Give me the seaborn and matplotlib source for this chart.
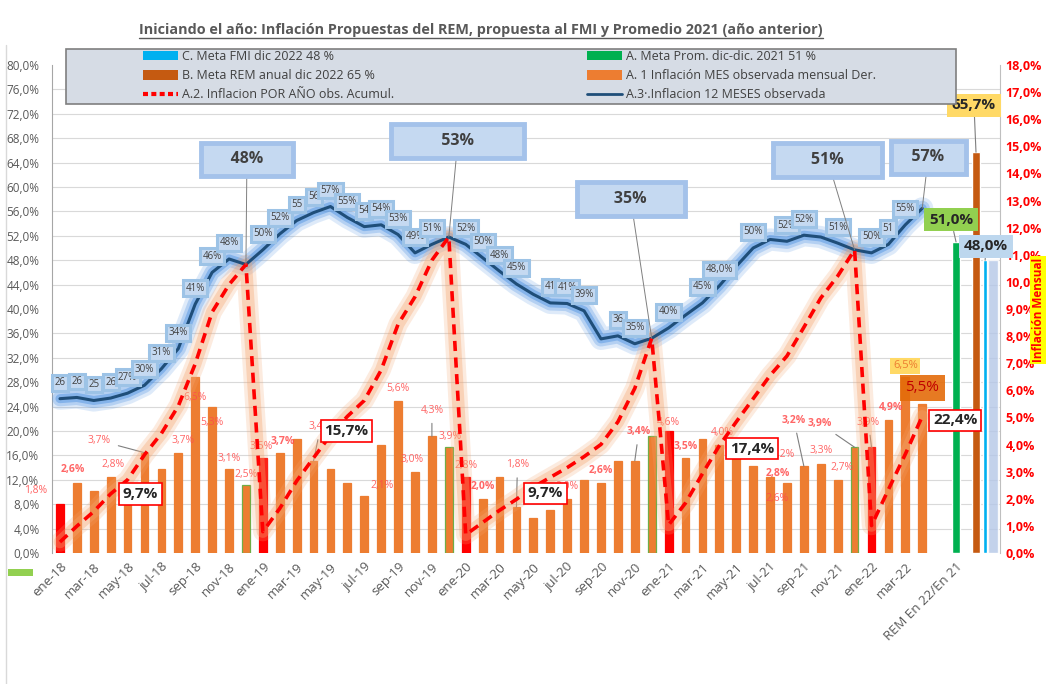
import numpy as np
import pandas as pd
import matplotlib
matplotlib.use("Agg")
import matplotlib.pyplot as plt
import seaborn as sns
from matplotlib.ticker import FuncFormatter, MultipleLocator
from matplotlib.patches import Patch, Rectangle
from matplotlib.lines import Line2D

# ---------------- data ----------------
month_names = ["ene", "feb", "mar", "abr", "may", "jun", "jul", "ago", "sep", "oct", "nov", "dic"]
years = ["18", "19", "20", "21", "22"]
months = [f"{m}-{y}" for y in years for m in month_names][:52]
extra_category = "REM En 22/En 21"

# A.1 monthly inflation (right axis, %)
monthly_infl = [1.8, 2.6, 2.3, 2.8, 2.1, 3.7, 3.1, 3.7, 6.5, 5.4, 3.1, 2.5,
                3.5, 3.7, 4.2, 3.4, 3.1, 2.6, 2.1, 4.0, 5.6, 3.0, 4.3, 3.9,
                2.8, 2.0, 2.8, 1.7, 1.3, 1.6, 2.0, 2.7, 2.6, 3.4, 3.4, 4.3,
                4.5, 3.5, 4.2, 4.0, 3.5, 3.2, 2.8, 2.6, 3.2, 3.3, 2.7, 3.9,
                3.9, 4.9, 6.5, 5.5]
# A.3 12-month inflation (left axis, %)
infl_12m = [25.3, 25.5, 25.0, 25.4, 26.2, 27.5, 30.2, 33.5, 40.8, 46.0, 48.2, 47.3,
            49.7, 52.3, 54.5, 55.8, 56.8, 55.0, 53.5, 53.8, 52.2, 49.2, 50.6, 51.8,
            50.6, 48.4, 46.2, 44.1, 42.4, 41.0, 40.9, 39.7, 35.1, 35.6, 34.3, 35.2,
            36.9, 39.0, 41.0, 43.8, 47.0, 50.0, 51.4, 51.1, 52.1, 51.8, 50.8, 49.7,
            49.2, 50.6, 53.8, 56.5]
# A.2 accumulated inflation in the year (left axis, %)
infl_acum = [1.8, 4.4, 6.8, 9.7, 12.0, 16.1, 19.6, 24.1, 31.0, 39.5, 44.0, 47.3,
             3.5, 7.3, 11.8, 15.6, 19.3, 22.4, 25.0, 30.0, 37.5, 42.0, 48.0, 51.8,
             3.0, 5.0, 7.0, 8.8, 10.8, 12.4, 14.0, 15.8, 17.8, 21.5, 27.0, 35.2,
             4.6, 8.2, 13.0, 17.6, 21.5, 25.3, 29.1, 32.3, 37.0, 41.8, 45.4, 49.7,
             4.5, 10.4, 16.2, 22.4]
# meta bars (left axis, %)
meta_names = ["A. Meta Prom. dic-dic. 2021 51 %", "B. Meta REM anual dic 2022 65 %", "C. Meta FMI dic 2022 48 %"]
meta_values = [51.0, 65.7, 48.0]
meta_text = ["51,0%", "65,7%", "48,0%"]
band_value = 48.0

# labels on 12-month line
lab12 = [(0, "26"), (1, "26"), (2, "25"), (3, "26"), (4, "27%"), (5, "30%"), (6, "31%"), (7, "34%"),
         (8, "41%"), (9, "46%"), (10, "48%"), (12, "50%"), (13, "52%"), (14, "55"), (15, "56"),
         (16, "57%"), (17, "55%"), (18, "54"), (19, "54%"), (20, "53%"), (21, "49%"), (22, "51%"),
         (24, "52%"), (25, "50%"), (26, "48%"), (27, "45%"), (29, "41"), (30, "41%"), (31, "39%"),
         (33, "36"), (34, "35%"), (36, "40%"), (38, "45%"), (39, "48,0%"), (41, "50%"), (43, "52%"),
         (44, "52%"), (46, "51%"), (48, "50%"), (49, "51"), (50, "55%")]
# big call-outs on 12-month line: idx, text, dx px, dy px
callouts = [(11, "     48%     ", 1, 105), (23, "          53%          ", 9, 96),
            (35, "       35%       ", -21, 139), (47, "       51%       ", -27, 90),
            (51, "   57%   ", 6, 51)]
# accumulated boxes: idx, text, dx px, dy px
acum_boxes = [(3, "9,7%", 30, 0), (15, "15,7%", 33, 27), (27, "9,7%", 29, 6),
              (39, "17,4%", 33, -3), (51, "22,4%", 33, -4)]
# monthly bar labels: idx, text, dx px, dy px, bold, leader
bar_labels = [(0, "1,8%", -24, 14, False, False), (1, "2,6%", -4, 13, True, False),
              (3, "2,8%", 2, 13, False, False), (5, "3,7%", -45, 12, False, True),
              (7, "3,7%", 5, 12, False, False), (8, "6,5%", 0, -21, False, False),
              (9, "5,3%", 0, -16, False, False), (10, "3,1%", 0, 10, False, False),
              (11, "2,5%", 0, 11, False, False), (12, "3,5%", -2, 12, False, False),
              (13, "3,7%", 3, 11, True, False), (15, "3,4%", 7, 34, False, True),
              (18, "2,1%", 18, 11, False, False), (20, "5,6%", 0, 13, False, False),
              (21, "3,0%", -3, 12, False, False), (22, "4,3%", 0, 26, False, True),
              (23, "3,9%", 1, 11, False, False), (24, "2,8%", 0, 12, False, False),
              (25, "2,0%", 0, 12, True, False), (27, "1,8%", 1, 42, False, True),
              (30, "2,0%", 0, 12, False, False), (32, "2,6%", 0, 12, True, False),
              (34, "3,4%", 4, 29, True, True), (36, "4,6%", 0, 9, False, False),
              (37, "3,5%", 0, 12, True, False), (39, "4,0%", 3, 12, False, False),
              (41, "3,2%", 30, 12, False, False), (42, "2,8%", 8, 4, True, False),
              (43, "2,6%", -10, -16, False, False), (44, "3,2%", -10, 46, True, True),
              (45, "3,3%", 0, 13, False, False), (46, "2,7%", 4, 12, False, False),
              (47, "3,9%", -35, 24, True, True), (48, "3,9%", -3, 25, False, True),
              (49, "4,9%", 3, 13, True, False)]

title = "Iniciando el año: Inflación Propuestas del REM, propuesta al FMI y Promedio 2021 (año anterior)"

# ---------------- style ----------------
sns.set_theme(style="white")
plt.rcParams['font.family'] = ['Open Sans', 'DejaVu Sans']

W, H = 1046, 684
fig = plt.figure(figsize=(W / 100, H / 100), dpi=100)
fig.patch.set_facecolor("white")


def fx(px):
    return px / W


def fy(py):
    return 1 - py / H


axL = fig.add_axes([fx(52), fy(553), fx(1000) - fx(52), fy(65) - fy(553)])
axR = axL.twinx()
axR.set_zorder(1)
axL.set_zorder(2)
axL.patch.set_visible(False)
axR.patch.set_facecolor("white")

n = len(months)
xpos = np.arange(n)
cat_rem = n + 1

# monthly bars (right axis)
bar_colors = ["#FF0000" if m.startswith("ene") else "#ED7D31" for m in months]
edge_colors = ["#70AD47" if m.startswith("dic") else c for m, c in zip(months, bar_colors)]
axR.bar(xpos, monthly_infl, width=0.46, color=bar_colors, edgecolor=edge_colors, linewidth=0.9, zorder=2)

# meta bars (left axis)
meta_pos = [cat_rem, cat_rem + 1.18, cat_rem + 1.72]
meta_colors = ["#00B050", "#C55A11", "#00B0F0"]
meta_widths = [0.42, 0.42, 0.26]
axL.bar([cat_rem + 2.2], [band_value], width=0.62, color="#B4C7E7", alpha=0.8, zorder=1)
for p, v, c, w in zip(meta_pos, meta_values, meta_colors, meta_widths):
    axL.bar([p], [v], width=w, color=c, zorder=2)

df = pd.DataFrame({"x": xpos, "i12": infl_12m, "acum": infl_acum})

# 12-month line with blue glow
for lw, a in [(16, 0.18), (11, 0.28), (6.5, 0.45)]:
    sns.lineplot(data=df, x="x", y="i12", ax=axL, color="#4A90E2", lw=lw, alpha=a,
                 legend=False, solid_capstyle="round", solid_joinstyle="round", zorder=3)
sns.lineplot(data=df, x="x", y="i12", ax=axL, color="#1F4E79", lw=2.2, legend=False, zorder=4)

# accumulated line with orange glow
for lw, a in [(14, 0.22), (9, 0.35)]:
    sns.lineplot(data=df, x="x", y="acum", ax=axL, color="#F4A46E", lw=lw, alpha=a,
                 legend=False, solid_capstyle="round", solid_joinstyle="round", zorder=3)
sns.lineplot(data=df, x="x", y="acum", ax=axL, color="#FF0000", lw=2.6,
             linestyle=(0, (2.8, 1.8)), legend=False, zorder=4)

# ---------------- axes ----------------
axL.set_xlim(-0.47, 55.6)
axL.set_ylim(0, 80)
axR.set_ylim(0, 18)
axL.set_yticks(np.arange(0, 81, 4))
axR.set_yticks(np.arange(0, 19, 1))
pct = FuncFormatter(lambda v, p: f"{v:.1f}%".replace(".", ","))
axL.yaxis.set_major_formatter(pct)
axR.yaxis.set_major_formatter(pct)
axL.grid(False)
axR.grid(False)
axR.yaxis.set_minor_locator(MultipleLocator(0.9))
axR.grid(which="minor", axis="y", color="#D9D9D9", lw=0.8)
axL.tick_params(axis="y", length=0, pad=9, labelsize=8.5, labelcolor="#595959")
axR.tick_params(axis="y", which="both", length=0, pad=4, labelsize=9, labelcolor="#FF0000")
for t in axR.get_yticklabels():
    t.set_fontweight("bold")

tick_pos = list(xpos[::2]) + [cat_rem]
tick_labels = months[::2] + [extra_category]
axL.set_xticks(tick_pos)
axL.set_xticklabels(tick_labels, rotation=45, ha="right", rotation_mode="anchor",
                    fontsize=9.5, color="#595959")
axL.tick_params(axis="x", length=0, pad=5)
axL.set_xlabel("")
axL.set_ylabel("")
axR.set_ylabel("")
for s in ["top", "bottom", "right"]:
    axL.spines[s].set_visible(False)
for s in ["top", "bottom", "left"]:
    axR.spines[s].set_visible(False)
axL.spines["left"].set_color("#A6A6A6")
axL.spines["left"].set_linewidth(0.8)
axR.spines["right"].set_color("#BFBFBF")
axR.spines["right"].set_linewidth(0.8)

# ---------------- annotations ----------------
for idx, txt in lab12:
    axL.annotate(txt, xy=(idx, infl_12m[idx]), xytext=(0, 16), textcoords="offset pixels",
                 ha="center", va="center", fontsize=7, color="#404040", zorder=6,
                 bbox=dict(boxstyle="square,pad=0.25", fc="#C5D9F1", ec="#9DC3E6", lw=2.2))

for idx, txt, dx, dy in callouts:
    axL.annotate(txt, xy=(idx, infl_12m[idx]), xytext=(dx, dy), textcoords="offset pixels",
                 ha="center", va="center", fontsize=11.5, fontweight="bold", color="#404040", zorder=7,
                 bbox=dict(boxstyle="square,pad=0.55", fc="#C5D9F1", ec="#A4C2EA", lw=3.5),
                 arrowprops=dict(arrowstyle="-", color="#7F7F7F", lw=0.7, shrinkA=0, shrinkB=0))

for idx, txt, dx, dy in acum_boxes:
    axL.annotate(txt, xy=(idx, infl_acum[idx]), xytext=(dx, dy), textcoords="offset pixels",
                 ha="center", va="center", fontsize=11, fontweight="bold", color="#262626", zorder=7,
                 bbox=dict(boxstyle="square,pad=0.25", fc="white", ec="#FF0000", lw=1.2))

for idx, txt, dx, dy, bold, leader in bar_labels:
    kw = {}
    if leader:
        kw["arrowprops"] = dict(arrowstyle="-", color="#7F7F7F", lw=0.8, shrinkA=3, shrinkB=0)
    axR.annotate(txt, xy=(idx, monthly_infl[idx]), xytext=(dx, dy), textcoords="offset pixels",
                 ha="center", va="center", fontsize=7.5, color="#FF4B4B",
                 fontweight="bold" if bold else "normal", alpha=0.85, zorder=5, **kw)

# special labels on last months
axR.annotate("6,5%", xy=(n - 2, monthly_infl[n - 2]), xytext=(0, 11), textcoords="offset pixels",
             ha="center", va="center", fontsize=8, color="#ED7D31", zorder=6,
             bbox=dict(boxstyle="square,pad=0.25", fc="#FFD966", ec="none"))
axR.annotate("5,5%", xy=(n - 1, monthly_infl[n - 1]), xytext=(0, 16), textcoords="offset pixels",
             ha="center", va="center", fontsize=11, color="#C00000", zorder=6,
             bbox=dict(boxstyle="square,pad=0.35", fc="#E46C0A", ec="none", alpha=0.9))

# meta value labels
meta_box = [("#92D050", -5, 22), ("#FFD966", -2, 47), ("#BDD7EE", 1, 14)]
for p, v, t, (fc, dx, dy) in zip(meta_pos, meta_values, meta_text, meta_box):
    axL.annotate(t, xy=(p, v), xytext=(dx, dy), textcoords="offset pixels",
                 ha="center", va="center", fontsize=11, fontweight="bold", color="#262626", zorder=8,
                 bbox=dict(boxstyle="square,pad=0.3", fc=fc, ec="none"),
                 arrowprops=dict(arrowstyle="-", color="#7F7F7F", lw=0.8, shrinkA=0, shrinkB=0))

# ---------------- legend ----------------
fig.add_artist(Rectangle((fx(66), fy(104)), fx(956) - fx(66), fy(49) - fy(104), transform=fig.transFigure,
                         fc="#D6DCE5", ec="#7F7F7F", lw=1.2, zorder=10))
hl = [Patch(fc="#00B0F0", ec="none"), Patch(fc="#C55A11", ec="none"),
      Line2D([0], [0], color="#FF0000", lw=3, linestyle=(0, (1.2, 0.8)))]
ll = [meta_names[2], meta_names[1], "A.2. Inflacion POR AÑO obs. Acumul."]
hr = [Patch(fc="#00B050", ec="none"), Patch(fc="#ED7D31", ec="none"),
      Line2D([0], [0], color="#1F4E79", lw=2)]
lr = [meta_names[0], "A. 1 Inflación MES observada mensual Der.", "A.3·.Inflacion 12 MESES observada"]
leg1 = fig.legend(hl, ll, loc="upper left", bbox_to_anchor=(fx(143), fy(50)), frameon=False,
                  fontsize=9, handlelength=2.8, handleheight=0.8, labelspacing=0.5,
                  handletextpad=0.3, borderpad=0, borderaxespad=0)
leg2 = fig.legend(hr, lr, loc="upper left", bbox_to_anchor=(fx(587), fy(50)), frameon=False,
                  fontsize=9, handlelength=2.8, handleheight=0.8, labelspacing=0.5,
                  handletextpad=0.3, borderpad=0, borderaxespad=0)
for lg in (leg1, leg2):
    lg.set_zorder(11)
    for t in lg.get_texts():
        t.set_color("#404040")

# ---------------- title & extras ----------------
tt = fig.text(fx(481), fy(30), title, ha="center", va="center", fontsize=10.4, fontweight="bold",
              color="#595959")
fig.canvas.draw()
bb = tt.get_window_extent()
fig.add_artist(Line2D([bb.x0 / W, bb.x1 / W], [bb.y0 / H - 0.002, bb.y0 / H - 0.002],
                      color="#595959", lw=1, transform=fig.transFigure))

fig.text(fx(1038), fy(310), "Inflación Mensual", rotation=90, ha="center", va="center",
         fontsize=8.5, fontweight="bold", color="#FF0000",
         bbox=dict(boxstyle="square,pad=0.15", fc="#FFFF00", ec="none"), zorder=12)
fig.add_artist(Rectangle((fx(8), fy(576)), fx(25), fy(569) - fy(576), transform=fig.transFigure,
                         fc="#92D050", ec="none"))
fig.add_artist(Line2D([fx(6), fx(6)], [fy(45), 0], color="#D9D9D9", lw=1, transform=fig.transFigure))

fig.savefig("out.png", dpi=100, facecolor="white")
